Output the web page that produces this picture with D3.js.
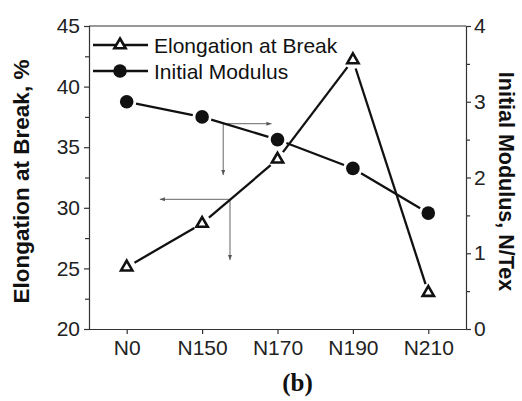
<!DOCTYPE html>
<html>
<head>
<meta charset="utf-8">
<script src="https://cdn.jsdelivr.net/npm/d3@7"></script>
<style>
  html, body { margin: 0; padding: 0; background: #fff; }
  svg { display: block; }
</style>
</head>
<body>
<svg id="chart" width="522" height="401"></svg>
<script>
// ---- data ----
const categories = ["N0", "N150", "N170", "N190", "N210"];
const elongation = [25.1, 28.7, 34.0, 42.2, 23.0];        // %, left axis
const modulus = [3.0, 2.8, 2.5, 2.12, 1.53];              // N/Tex, right axis
const leftTicks = [20, 25, 30, 35, 40, 45];
const rightTicks = [0, 1, 2, 3, 4];
const legendLabels = ["Elongation at Break", "Initial Modulus"];
const leftTitle = "Elongation at Break, %";
const rightTitle = "Initial Modulus, N/Tex";
const caption = "(b)";
// annotation arrows: origin (category index, value, axis) and two arrow ends
const arrows = [
  { x0: 1.28, y0: 2.71, axis: "right", toX: 1.92, downTo: 32.7, downAxis: "left" },
  { x0: 1.37, y0: 30.7, axis: "left", toX: 0.44, downTo: 0.91, downAxis: "right" }
];

// ---- layout ----
const L = 89, R = 466, T = 26, B = 329;
const svg = d3.select("#chart");
const font = "'Liberation Sans', Arial, Helvetica, sans-serif";

const x = d3.scalePoint().domain(categories).range([L, R]).padding(0.5);
const xi = i => x(categories[0]) + i * x.step();
const yL = d3.scaleLinear().domain([20, 45]).range([B, T]);
const yR = d3.scaleLinear().domain([0, 4]).range([B, T]);
const axisColor = "#333";

// frame top line
svg.append("line").attr("x1", L).attr("x2", R).attr("y1", T).attr("y2", T)
  .attr("stroke", axisColor).attr("stroke-width", 1.2);

// left axis
const gL = svg.append("g").attr("transform", `translate(${L},0)`);
gL.call(d3.axisLeft(yL).tickValues(d3.range(20, 45.1, 2.5)).tickSize(5).tickPadding(4)
  .tickFormat(d => leftTicks.includes(d) ? d : ""));
// right axis
const gR = svg.append("g").attr("transform", `translate(${R},0)`);
gR.call(d3.axisRight(yR).tickValues(d3.range(0, 4.01, 0.5)).tickSize(5).tickPadding(3)
  .tickFormat(d => rightTicks.includes(d) ? d : ""));
// bottom axis
const gB = svg.append("g").attr("transform", `translate(0,${B})`);
gB.call(d3.axisBottom(x).tickSize(5).tickPadding(6));
gB.select(".domain").attr("d", `M${L},0.5H${R}`);

[gL, gR, gB].forEach(g => {
  g.select(".domain").attr("stroke", axisColor).attr("stroke-width", 1.2);
  g.selectAll(".tick line").attr("stroke", axisColor).attr("stroke-width", 1.2);
  g.selectAll(".tick text").attr("fill", "#222").style("font-family", font).style("font-size", "21px");
});
gL.selectAll(".tick").filter(d => !leftTicks.includes(d)).select("line").attr("x2", -4);
gR.selectAll(".tick").filter(d => !rightTicks.includes(d)).select("line").attr("x2", 4);

// axis titles
svg.append("text").attr("transform", `translate(29,${(T + B) / 2 + 4}) rotate(-90)`)
  .attr("text-anchor", "middle").style("font-family", font).style("font-size", "22.5px")
  .style("font-weight", "bold").attr("fill", "#111").text(leftTitle);
svg.append("text").attr("transform", `translate(499,${(T + B) / 2 + 4}) rotate(90)`)
  .attr("text-anchor", "middle").style("font-family", font).style("font-size", "21.5px")
  .style("font-weight", "bold").attr("fill", "#111").text(rightTitle);

// caption
svg.append("text").attr("x", (L + R) / 2 + 20).attr("y", 391).attr("text-anchor", "middle")
  .style("font-family", "'Liberation Serif', 'Times New Roman', serif").style("font-size", "25px")
  .style("font-weight", "bold").attr("fill", "#111").text(caption);

// annotation arrows
const defs = svg.append("defs");
defs.append("marker").attr("id", "ah").attr("viewBox", "0 0 10 10").attr("refX", 10).attr("refY", 5)
  .attr("markerWidth", 7).attr("markerHeight", 5).attr("markerUnits", "userSpaceOnUse")
  .attr("orient", "auto").append("path").attr("d", "M0,1 L10,5 L0,9 Z").attr("fill", "#555");
const sc = a => a === "left" ? yL : yR;
const gA = svg.append("g").attr("stroke", "#666").attr("stroke-width", 1);
arrows.forEach(a => {
  const ox = xi(a.x0), oy = sc(a.axis)(a.y0);
  gA.append("line").attr("x1", ox).attr("y1", oy).attr("x2", xi(a.toX)).attr("y2", oy)
    .attr("marker-end", "url(#ah)");
  gA.append("line").attr("x1", ox).attr("y1", oy).attr("x2", ox).attr("y2", sc(a.downAxis)(a.downTo))
    .attr("marker-end", "url(#ah)");
});

// series lines with gaps around markers
function gappedLine(pts, gap) {
  const g = svg.append("g").attr("stroke", "#111").attr("stroke-width", 2.3).attr("fill", "none");
  for (let i = 0; i < pts.length - 1; i++) {
    const [x1, y1] = pts[i], [x2, y2] = pts[i + 1];
    const dx = x2 - x1, dy = y2 - y1, len = Math.hypot(dx, dy);
    const ux = dx / len, uy = dy / len;
    g.append("line").attr("x1", x1 + ux * gap).attr("y1", y1 + uy * gap)
      .attr("x2", x2 - ux * gap).attr("y2", y2 - uy * gap);
  }
}
const ptsE = categories.map((c, i) => [x(c), yL(elongation[i])]);
const ptsM = categories.map((c, i) => [x(c), yR(modulus[i])]);
gappedLine(ptsM, 9.5);
gappedLine(ptsE, 9);

const tri = d3.symbol().type(d3.symbolTriangle).size(55);
svg.append("g").selectAll("circle").data(ptsM).join("circle")
  .attr("cx", d => d[0]).attr("cy", d => d[1]).attr("r", 6.8).attr("fill", "#111");
svg.append("g").selectAll("path").data(ptsE).join("path")
  .attr("d", tri).attr("transform", d => `translate(${d[0]},${d[1]})`)
  .attr("fill", "#fff").attr("stroke", "#111").attr("stroke-width", 2.6);

// legend
const lg = svg.append("g");
legendLabels.forEach((lab, i) => {
  const ly = 45 + i * 26;
  lg.append("line").attr("x1", 93).attr("x2", 148).attr("y1", ly).attr("y2", ly)
    .attr("stroke", "#111").attr("stroke-width", 2.3);
  if (i === 0) {
    lg.append("path").attr("d", tri).attr("transform", `translate(120,${ly})`)
      .attr("fill", "#fff").attr("stroke", "#111").attr("stroke-width", 2.6);
  } else {
    lg.append("circle").attr("cx", 120).attr("cy", ly).attr("r", 6.8).attr("fill", "#111");
  }
  lg.append("text").attr("x", 154).attr("y", ly + 7.5).style("font-family", font)
    .style("font-size", "21px").attr("fill", "#111").text(lab);
});
</script>
</body>
</html>
